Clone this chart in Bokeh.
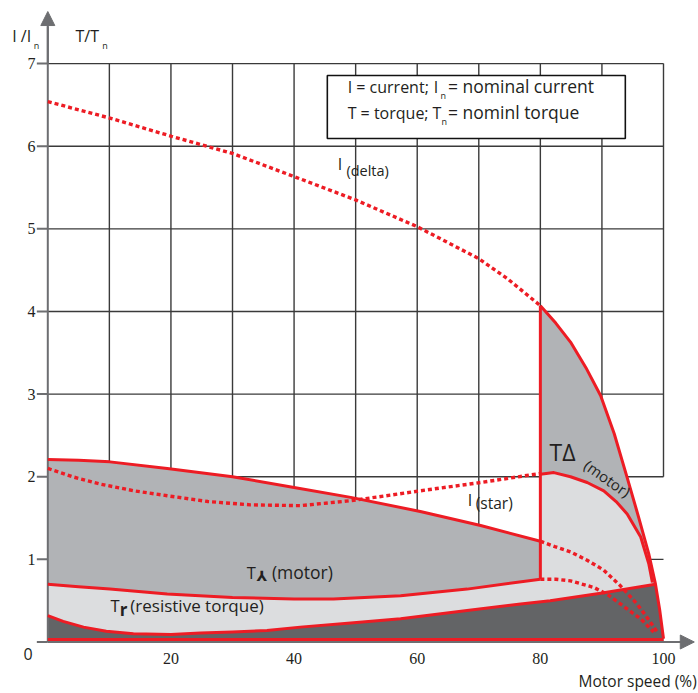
from bokeh.plotting import figure
from bokeh.models import Range1d, Label, Arrow, NormalHead
from bokeh.embed import file_html
from bokeh.resources import INLINE

# ---------------- data ----------------
idelta_x = [0, 10.1, 20.1, 30.1, 40.1, 50.0, 59.9, 70.0, 74.6, 80.0]
idelta_y = [6.54, 6.34, 6.12, 5.91, 5.63, 5.35, 5.03, 4.64, 4.40, 4.07]

istar_x = [0, 4, 8.6, 14, 19.4, 26, 32.9, 41.0, 49.2, 55, 60.5, 70.3, 80.0]
istar_y = [2.10, 2.0, 1.91, 1.83, 1.77, 1.70, 1.66, 1.65, 1.71, 1.77, 1.83, 1.93, 2.04]

tstar_top_x = [0, 5, 10.1, 19.4, 30.0, 40.0, 49.2, 60.5, 70.3, 80.0]
tstar_top_y = [2.21, 2.20, 2.18, 2.10, 2.00, 1.87, 1.75, 1.58, 1.41, 1.22]

tstar_low_x = [0, 5, 10.1, 19.4, 30.0, 40.0, 46.4, 57.3, 68.1, 80.0]
tstar_low_y = [0.70, 0.67, 0.64, 0.58, 0.54, 0.52, 0.52, 0.56, 0.64, 0.76]

tr_x = [0, 2.5, 5.8, 9.5, 13.9, 20.0, 24.8, 30.0, 35.6, 41.0, 49.2, 57.3, 68.1, 76.8, 81.6, 89.8, 98.7]
tr_y = [0.32, 0.25, 0.18, 0.13, 0.10, 0.09, 0.11, 0.12, 0.14, 0.18, 0.23, 0.28, 0.38, 0.46, 0.50, 0.59, 0.70]

tdout_x = [80.0, 81.2, 82.5, 84.9, 87.4, 89.8, 92.0, 94.1, 96.0, 97.6, 98.7, 99.4, 100.0]
tdout_y = [4.07, 3.97, 3.86, 3.63, 3.32, 2.98, 2.52, 1.99, 1.50, 1.07, 0.70, 0.38, 0.04]

tdin_x = [80.0, 82.2, 84.9, 87.6, 90.3, 92.3, 94.1, 96.3, 97.6, 98.2]
tdin_y = [2.03, 2.05, 2.00, 1.93, 1.83, 1.70, 1.55, 1.27, 0.95, 0.72]

d1_x = [80.0, 82.5, 84.9, 87.6, 90.3, 93.0, 95.7, 97.5, 99.0]
d1_y = [1.22, 1.15, 1.09, 0.99, 0.87, 0.68, 0.46, 0.28, 0.12]

d2_x = [80.0, 82.5, 84.9, 88.7, 91.0, 93.0, 96.3, 98.4]
d2_y = [0.76, 0.76, 0.74, 0.66, 0.57, 0.46, 0.28, 0.12]

base_y = 0.03
x_ticks = [20, 40, 60, 80, 100]
x_tick_labels = ["20", "40", "60", "80", "100"]
y_ticks = [0, 1, 2, 3, 4, 5, 6, 7]
y_tick_labels = ["1", "2", "3", "4", "5", "6", "7"]
grid_x = [10, 20, 30, 40, 50, 60, 70, 80, 90, 100]
grid_y = [1, 2, 3, 4, 5, 6, 7]

# ---------------- styling ----------------
RED = "#ED1C24"
MID = "#b1b3b6"
LIGHT = "#dcdddf"
DARK = "#636466"
GRID = "#3a3a3a"
AXIS = "#6d6e71"
TXT = "#231f20"
FONT = "Open Sans"

W, H = 698, 693
p = figure(width=W, height=H, x_range=Range1d(-7.682, 105.685), y_range=Range1d(-0.6233, 7.7636),
           output_backend="svg", toolbar_location=None, title=None,
           x_axis_location=None, y_axis_location=None,
           min_border=0)
p.grid.visible = False
p.outline_line_color = None
p.background_fill_color = "white"
p.border_fill_color = "white"

# grid (limited to the 0..100 x 0..7 box)
n = len(grid_x) - 1
p.segment(x0=grid_x[:-1], y0=[0] * n, x1=grid_x[:-1], y1=[grid_y[-1]] * n,
          line_color=GRID, line_width=1.4)
p.segment(x0=[grid_x[-1]], y0=[grid_y[1]], x1=[grid_x[-1]], y1=[grid_y[-1]], line_color=GRID, line_width=1.4)
p.segment(x0=[0] * len(grid_y), y0=grid_y, x1=[grid_x[-1]] * len(grid_y), y1=grid_y,
          line_color=GRID, line_width=1.4)

# legend box
p.quad(left=[45.4], right=[93.8], bottom=[6.093], top=[6.856], fill_color="white",
       line_color="#111111", line_width=1.6)

# fills
p1x = tstar_top_x + tdout_x + [tdout_x[-1], 0]
p1y = tstar_top_y + tdout_y + [0, 0]
p2x = tstar_low_x + tdin_x + [tdin_x[-1], 0]
p2y = tstar_low_y + tdin_y + [0, 0]
p3x = tr_x + tdout_x[11:] + [tdout_x[-1], 0]
p3y = tr_y + tdout_y[11:] + [0, 0]
p.patch(p1x, p1y, fill_color=MID, line_color=None)
p.patch(p2x, p2y, fill_color=LIGHT, line_color=None)
p.patch(p3x, p3y, fill_color=DARK, line_color=None)

# axes (lines, ticks, arrows)
TICK_LEN = 1.78  # data units (about 11 px)
p.segment(x0=[-TICK_LEN] * len(y_ticks), y0=y_ticks, x1=[0] * len(y_ticks), y1=y_ticks,
          line_color=AXIS, line_width=2)
p.segment(x0=[0, 0], y0=[0, 0], x1=[0, 104.0], y1=[7.45, 0], line_color=AXIS, line_width=2)
p.add_layout(Arrow(end=NormalHead(size=14, fill_color=AXIS, line_color=AXIS, line_width=1),
                   x_start=100, y_start=0, x_end=105.0, y_end=0, line_color=AXIS, line_width=2))
p.add_layout(Arrow(end=NormalHead(size=14, fill_color=AXIS, line_color=AXIS, line_width=1),
                   x_start=0, y_start=7.0, x_end=0, y_end=7.63, line_color=AXIS, line_width=2))

# tick labels
p.text(x=[-2.0] * len(y_tick_labels), y=y_ticks[1:], text=y_tick_labels, text_align="right",
       text_baseline="middle", text_font="Open Sans", text_font_size="16px", text_color=TXT)
p.text(x=x_ticks, y=[-0.203] * len(x_ticks), text=x_tick_labels, text_align="center",
       text_baseline="middle", text_font="Open Sans", text_font_size="16px", text_color=TXT)

# solid red curves
p.multi_line(xs=[tstar_top_x, tstar_low_x, tr_x, tdout_x, tdin_x,
                 [tstar_low_x[-1], tdout_x[0]], [0, tdout_x[-1]]],
             ys=[tstar_top_y, tstar_low_y, tr_y, tdout_y, tdin_y,
                 [tstar_low_y[-1], tdout_y[0]], [base_y, base_y]],
             line_color=RED, line_width=3, line_join="round")

# dotted red curves
p.multi_line(xs=[idelta_x, istar_x, d1_x, d2_x], ys=[idelta_y, istar_y, d1_y, d2_y],
             line_color=RED, line_width=3.4, line_dash="4 3")


def lab(x, y, t, size="17px", font=FONT, **kw):
    p.add_layout(Label(x=x, y=y, text=t, text_font=font, text_font_size=size,
                       text_color=TXT, **kw))


# legend text
lab(48.7, 6.58, "I = current;", "16px")
lab(62.7, 6.58, "I", "16px")
lab(63.8, 6.53, "n", "9px")
lab(65.0, 6.58, "= nominal current", "17.5px")
lab(48.7, 6.27, "T = torque;", "16px")
lab(62.5, 6.27, "T", "16px")
lab(63.95, 6.22, "n", "9px")
lab(65.0, 6.27, "= nominl torque", "17.5px")

# axis titles
lab(-5.78, 7.195, "I /I", "16px")
lab(-2.3, 7.138, "n", "9px")
lab(4.5, 7.195, "T/T", "16px")
lab(8.84, 7.138, "n", "9px")
lab(-3.22, -0.145, "0", "16px", text_align="center", text_baseline="middle")
lab(105.4, -0.61, "Motor speed (%)", "15.5px", text_align="right")

# curve labels
lab(47.1, 5.65, "I", "16px")
lab(48.5, 5.59, "(delta)", "14.5px")
lab(68.2, 1.59, "I", "16px")
lab(69.5, 1.55, "(star)", "15.5px")
lab(81.5, 2.11, "TΔ", "23px")
lab(90.9, 1.98, "(motor)", "15px", text_align="center", text_baseline="middle", angle=-0.61)
lab(32.3, 0.70, "T", "16.5px")
lab(33.9, 0.70, "⅄", "14px", font="DejaVu Sans", text_font_style="bold")
lab(36.4, 0.70, "(motor)", "17.5px")
lab(10.2, 0.30, "T", "16.5px")
lab(11.7, 0.26, "r", "17px", text_font_style="bold")
lab(13.4, 0.30, "(resistive torque)", "17px")

open("out.html", "w").write(file_html(p, INLINE))
